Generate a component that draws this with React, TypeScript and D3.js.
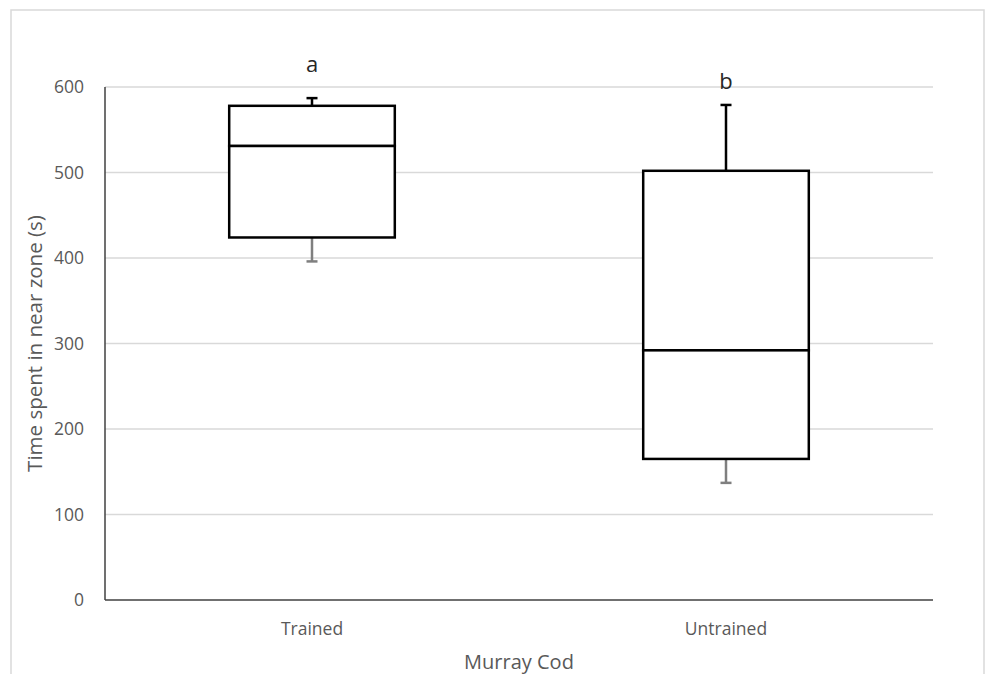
import React from "react";
import * as d3 from "d3";

const categories = ["Trained", "Untrained"];
const whiskerLow = [396, 137];
const q1 = [424, 165];
const median = [531, 292];
const q3 = [578, 502];
const whiskerHigh = [587, 579];
const sigLetters = ["a", "b"];
const sigLetterValue = [626, 607];
const yTicks = [0, 100, 200, 300, 400, 500, 600];

const W = 987;
const H = 674;
const font = "'Open Sans', 'Noto Sans', sans-serif";

export default function App() {
  const left = 105, right = 933, top = 87, bottom = 600;
  const x = d3.scaleBand<string>().domain(categories).range([left, right]).paddingInner(0).paddingOuter(0);
  const y = d3.scaleLinear().domain([0, 600]).range([bottom, top]);
  const boxW = x.bandwidth() * 0.4;
  const cap = 11;

  return (
    <svg width={W} height={H} style={{ position: "absolute", left: 0, top: 0, background: "#fff" }}>
      <rect x={11} y={10} width={973} height={680} fill="#fff" stroke="#d9d9d9" strokeWidth={1.5} />
      {yTicks.map((t) => (
        <g key={t}>
          {t > 0 && <line x1={left} x2={right} y1={y(t)} y2={y(t)} stroke="#d9d9d9" strokeWidth={1.5} />}
          <text x={84} y={y(t)} dy="0.35em" textAnchor="end" fontSize={17.5} fill="#595959" fontFamily={font}>{t}</text>
        </g>
      ))}
      <line x1={left} x2={left} y1={top} y2={bottom} stroke="#404040" strokeWidth={1.5} />
      <line x1={left} x2={right} y1={bottom} y2={bottom} stroke="#404040" strokeWidth={1.5} />
      {categories.map((c, i) => {
        const cx = (x(c) as number) + x.bandwidth() / 2;
        return (
          <g key={c}>
            <line x1={cx} x2={cx} y1={y(q1[i])} y2={y(whiskerLow[i])} stroke="#7f7f7f" strokeWidth={2.5} />
            <line x1={cx - cap / 2} x2={cx + cap / 2} y1={y(whiskerLow[i])} y2={y(whiskerLow[i])} stroke="#7f7f7f" strokeWidth={2.5} />
            <line x1={cx} x2={cx} y1={y(q3[i])} y2={y(whiskerHigh[i])} stroke="#000" strokeWidth={2.5} />
            <line x1={cx - cap / 2} x2={cx + cap / 2} y1={y(whiskerHigh[i])} y2={y(whiskerHigh[i])} stroke="#000" strokeWidth={2.5} />
            <rect x={cx - boxW / 2} y={y(q3[i])} width={boxW} height={y(median[i]) - y(q3[i])} fill="#fff" stroke="#000" strokeWidth={2.5} />
            <rect x={cx - boxW / 2} y={y(median[i])} width={boxW} height={y(q1[i]) - y(median[i])} fill="#fff" stroke="#000" strokeWidth={2.5} />
            <text x={cx} y={629} dy="0.35em" textAnchor="middle" fontSize={17.5} fill="#595959" fontFamily={font}>{c}</text>
            <text x={cx} y={y(sigLetterValue[i])} dy="0.35em" textAnchor="middle" fontSize={22} fill="#262626" fontFamily={font}>{sigLetters[i]}</text>
          </g>
        );
      })}
      <text x={519} y={662} dy="0.35em" textAnchor="middle" fontSize={20} fill="#595959" fontFamily={font}>Murray Cod</text>
      <text transform={`translate(35,${(top + bottom) / 2}) rotate(-90)`} dy="0.35em" textAnchor="middle" fontSize={20.5} fill="#595959" fontFamily={font}>Time spent in near zone (s)</text>
    </svg>
  );
}
